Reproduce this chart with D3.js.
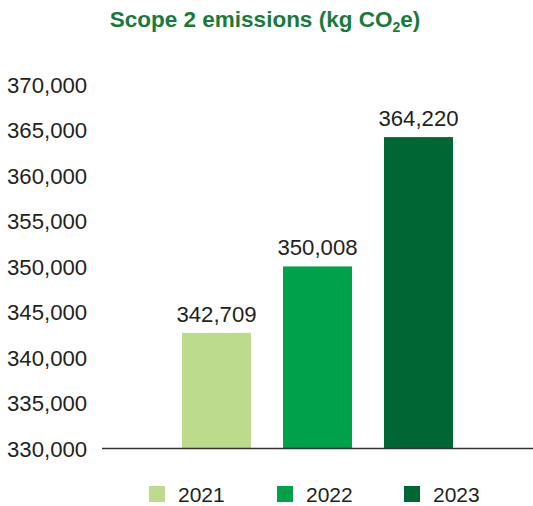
<!DOCTYPE html>
<html>
<head>
<meta charset="utf-8">
<script src="https://cdn.jsdelivr.net/npm/d3@7"></script>
<style>
  body { margin: 0; background: #fff; }
  text { font-family: "Liberation Sans", Arial, Helvetica, sans-serif; }
</style>
</head>
<body>
<div id="chart"></div>
<script>
// data
const years = ["2021", "2022", "2023"];
const emissions = [342709, 350008, 364220];
const colors = ["#bddb8d", "#00a14b", "#006633"];
const yTicks = [330000, 335000, 340000, 345000, 350000, 355000, 360000, 365000, 370000];

const width = 533, height = 506;

const svg = d3.select("#chart").append("svg")
  .attr("width", width)
  .attr("height", height);

const x = d3.scaleBand()
  .domain(years)
  .range([182, 453])
  .paddingInner(0.317)
  .paddingOuter(0);

const y = d3.scaleLinear()
  .domain([330000, 370000])
  .range([448.5, 84.5]);

const fmt = d3.format(",");

// title
const title = svg.append("text")
  .attr("x", 265)
  .attr("y", 27)
  .attr("text-anchor", "middle")
  .attr("fill", "#187a3b")
  .attr("font-size", 22.5)
  .attr("font-weight", "bold");
title.append("tspan").text("Scope 2 emissions (kg CO");
title.append("tspan").attr("font-size", 14).attr("dy", 5).text("2");
title.append("tspan").attr("dy", -5).text("e)");

// y tick labels, no axis line
svg.append("g")
  .selectAll("text")
  .data(yTicks)
  .enter()
  .append("text")
  .attr("x", 7)
  .attr("y", d => y(d) + 8)
  .attr("fill", "#231f20")
  .attr("font-size", 22.2)
  .text(d => fmt(d));

// bars
svg.append("g")
  .selectAll("rect")
  .data(years)
  .enter()
  .append("rect")
  .attr("x", d => x(d))
  .attr("y", (d, i) => y(emissions[i]))
  .attr("width", x.bandwidth())
  .attr("height", (d, i) => y(330000) - y(emissions[i]))
  .attr("fill", (d, i) => colors[i]);

// value labels
svg.append("g")
  .selectAll("text")
  .data(years)
  .enter()
  .append("text")
  .attr("x", d => x(d) + x.bandwidth() / 2)
  .attr("y", (d, i) => y(emissions[i]) - 11)
  .attr("text-anchor", "middle")
  .attr("fill", "#231f20")
  .attr("font-size", 22.2)
  .text((d, i) => fmt(emissions[i]));

// baseline
svg.append("line")
  .attr("x1", 102)
  .attr("x2", width)
  .attr("y1", y(330000))
  .attr("y2", y(330000))
  .attr("stroke", "#333")
  .attr("stroke-width", 1.5);

// legend
const legendX = [149, 277, 404];
const legend = svg.append("g")
  .selectAll("g")
  .data(years)
  .enter()
  .append("g")
  .attr("transform", (d, i) => `translate(${legendX[i]},486)`);

legend.append("rect")
  .attr("width", 16)
  .attr("height", 16)
  .attr("fill", (d, i) => colors[i]);

legend.append("text")
  .attr("x", 29)
  .attr("y", 16)
  .attr("fill", "#231f20")
  .attr("font-size", 21)
  .text(d => d);
</script>
</body>
</html>
